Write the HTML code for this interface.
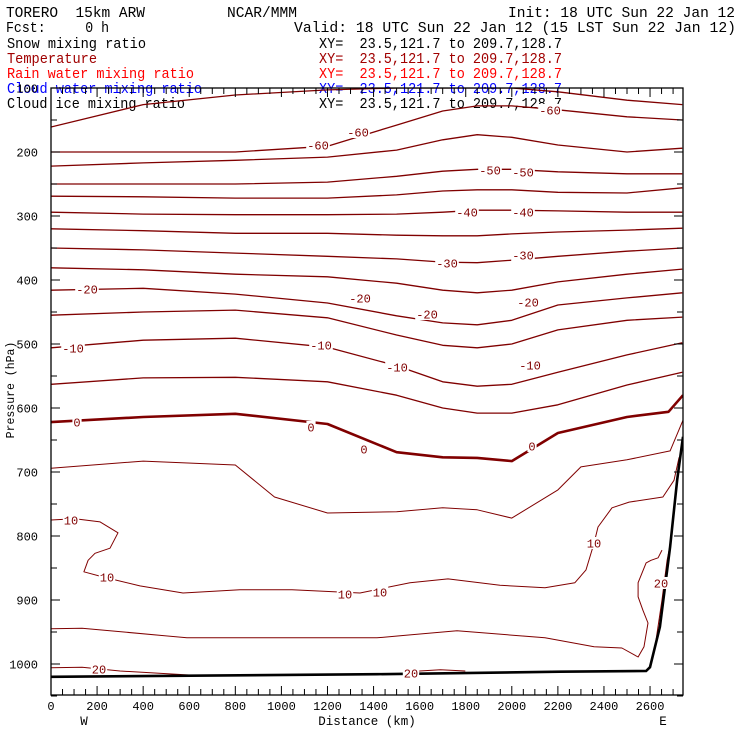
<!DOCTYPE html>
<html><head><meta charset="utf-8"><style>
html,body{margin:0;padding:0;background:#fff;}
svg{display:block;}
text{font-family:"Liberation Mono","DejaVu Sans Mono",monospace;white-space:pre;}
</style></head><body>
<svg id="chart" width="740" height="740" viewBox="0 0 740 740" xmlns="http://www.w3.org/2000/svg" xml:space="preserve">
<g id="header" font-size="14.4">
<text x="6" y="17" textLength="139" lengthAdjust="spacingAndGlyphs">TORERO  15km ARW</text>
<text x="227" y="17" textLength="70" lengthAdjust="spacingAndGlyphs">NCAR/MMM</text>
<text x="508" y="17" textLength="227" lengthAdjust="spacingAndGlyphs">Init: 18 UTC Sun 22 Jan 12</text>
<text x="6" y="32" textLength="103" lengthAdjust="spacingAndGlyphs">Fcst:     0 h</text>
<text x="294" y="32" textLength="442" lengthAdjust="spacingAndGlyphs">Valid: 18 UTC Sun 22 Jan 12 (15 LST Sun 22 Jan 12)</text>
<text x="7" y="48" fill="#000" textLength="139" lengthAdjust="spacingAndGlyphs">Snow mixing ratio</text>
<text x="319" y="48" fill="#000" textLength="243" lengthAdjust="spacingAndGlyphs">XY=  23.5,121.7 to 209.7,128.7</text>
<text x="7" y="63" fill="#a00000" textLength="90" lengthAdjust="spacingAndGlyphs">Temperature</text>
<text x="319" y="63" fill="#a00000" textLength="243" lengthAdjust="spacingAndGlyphs">XY=  23.5,121.7 to 209.7,128.7</text>
<text x="7" y="78" fill="#ff0000" textLength="187" lengthAdjust="spacingAndGlyphs">Rain water mixing ratio</text>
<text x="319" y="78" fill="#ff0000" textLength="243" lengthAdjust="spacingAndGlyphs">XY=  23.5,121.7 to 209.7,128.7</text>
<text x="7" y="93" fill="#0000ff" textLength="195" lengthAdjust="spacingAndGlyphs">Cloud water mixing ratio</text>
<text x="319" y="93" fill="#0000ff" textLength="243" lengthAdjust="spacingAndGlyphs">XY=  23.5,121.7 to 209.7,128.7</text>
<text x="7" y="108" fill="#000" textLength="178" lengthAdjust="spacingAndGlyphs">Cloud ice mixing ratio</text>
<text x="319" y="108" fill="#000" textLength="243" lengthAdjust="spacingAndGlyphs">XY=  23.5,121.7 to 209.7,128.7</text>
</g>
<g id="contours"></g>
<g id="labels" font-size="12" fill="#800000"></g>
<g id="axes"></g>
</svg>
<script>
// ---- data ----
const nodeKm = [0,400,800,1200,1500,1700,1850,2000,2200,2500,2740];
const levels = [-65,-60,-55,-50,-45,-40,-35,-30,-25,-20,-15,-10,-5];
const pM65 = [161,126,111,103,100,100,100,100,106,119,126];
const pM60 = [200,200,200,191,158,136,128,128,134,145,150];
const pM55 = [222,217,213,208,197,181,173,177,189,200,194];
const pM50 = [250,250,250,247,238,230,227,227,231,234,234];
const pM45 = [269,270,272,272,267,261,259,259,263,264,256];
const pM40 = [294,297,298,298,297,294,291,291,292,294,294];
const pM35 = [320,323,327,327,330,331,331,328,325,322,319];
const pM30 = [350,353,358,363,367,372,373,369,363,355,350];
const pM25 = [381,384,391,395,405,416,420,416,403,391,383];
const pM20 = [416,413,422,436,456,467,470,463,439,428,420];
const pM15 = [455,450,447,459,486,502,506,500,478,463,458];
const pM10 = [506,494,491,505,534,559,566,563,544,517,498];
const pM05 = [563,553,552,559,580,600,608,608,595,564,544];
const upperSeries = [pM65,pM60,pM55,pM50,pM45,pM40,pM35,pM30,pM25,pM20,pM15,pM10,pM05];

const km0 = [0,400,800,1200,1500,1700,1850,2000,2200,2500,2680,2743];
const p0  = [622,614,609,625,669,677,678,683,639,614,606,580];
const km5 = [0,400,800,970,1200,1500,1700,1850,2000,2200,2300,2500,2687,2743];
const p5  = [694,683,689,739,764,762,756,759,772,728,692,681,667,619];
const km10 = [0,104,213,291,256,191,161,143,226,386,573,820,1046,1341,1558,1723,1949,2144,2274,2322,2357,2374,2435,2509,2656,2704,2726];
const p10  = [775,773,778,795,819,827,838,856,864,878,889,884,884,889,873,867,877,881,873,853,811,786,756,747,739,713,677];
const km15 = [0,135,590,1415,1762,2144,2357,2478,2548,2574,2591,2569,2548,2548,2583,2604,2635,2652];
const p15  = [945,944,959,959,948,959,973,975,989,973,936,916,895,873,842,838,834,822];
const km20a = [0,135,300,590,712];
const p20a  = [1006,1005,1011,1017,1020];
const km20b = [1545,1600,1690,1798];
const p20b  = [1016,1011,1009,1011];
const km20c = [2604,2626,2652,2674,2687];
const p20c  = [1006,963,900,838,814];
const terrainKm = [0,1415,2209,2583,2600,2643,2687,2718,2743];
const terrainP  = [1020,1016,1012,1011,1005,942,817,712,645];

const xTicksMajor = [0,200,400,600,800,1000,1200,1400,1600,1800,2000,2200,2400,2600];
const yTicksMajor = [100,200,300,400,500,600,700,800,900,1000];

// ---- axes functions ----
const X0=51, X1=683, Y0=88, Y1=695;
const KMMAX=(X1-X0)/0.2304;
function xs(km){return X0 + km*0.2304;}
function ys(p){return Y0 + (p-100)*0.64;}
const NS='http://www.w3.org/2000/svg';
function mk(tag,attrs,parent){const e=document.createElementNS(NS,tag);for(const k in attrs)e.setAttribute(k,attrs[k]);parent.appendChild(e);return e;}
function pts(ka,pa){return ka.map((k,i)=>xs(k).toFixed(1)+','+ys(pa[i]).toFixed(1)).join(' ');}

const cg=document.getElementById('contours');
const clip=mk('clipPath',{id:'plotclip'},document.getElementById('chart'));
mk('rect',{x:X0,y:Y0,width:X1-X0,height:Y1-Y0},clip);
cg.setAttribute('clip-path','url(#plotclip)');
const DR='#800000';
upperSeries.forEach((s,i)=>{
  const l=mk('polyline',{points:pts(nodeKm,s),fill:'none',stroke:DR,'stroke-width':1.3,'stroke-linejoin':'round'},cg);
  
  
});
const others=[[km0,p0,'isotherm-0',2.6],[km5,p5,'isotherm-5',1],[km10,p10,'isotherm-10',1],[km15,p15,'isotherm-15',1],[km20a,p20a,'isotherm-20-west',1],[km20b,p20b,'isotherm-20-center',1],[km20c,p20c,'isotherm-20-east',1]];
others.forEach(o=>{
  const l=mk('polyline',{points:pts(o[0],o[1]),fill:'none',stroke:DR,'stroke-width':o[3],'stroke-linejoin':'round'},cg);
  
  
});
const tp=pts(terrainKm,terrainP);
const mask=mk('polygon',{points:tp+' '+xs(2743)+','+Y1+' '+X0+','+Y1,fill:'#fff',stroke:'none'},cg);


const terr=mk('polyline',{points:tp,fill:'none',stroke:'#000','stroke-width':2.6},cg);



const lg=document.getElementById('labels');
const labs=[["-60",318,145],["-60",358,132],["-60",550,110],["-50",490,170],["-50",523,172],["-40",467,212],["-40",523,212],["-30",447,263],["-30",523,255],["-20",87,289],["-20",360,298],["-20",427,314],["-20",528,302],["-10",73,348],["-10",321,345],["-10",397,367],["-10",530,365],["0",77,422],["0",311,427],["0",364,449],["0",532,446],["10",71,520],["10",107,577],["10",345,594],["10",380,592],["10",594,543],["20",99,669],["20",411,673],["20",661,583]];
labs.forEach(l=>{
  const w=l[0].length*7.2+2;
  const r=mk('rect',{x:l[1]-w/2,y:l[2]-6,width:w,height:12,fill:'#fff'},lg);
  
  
  const t=mk('text',{x:l[1],y:l[2]+4.5,'text-anchor':'middle'},lg);
  t.textContent=l[0];
  
  
});

const ag=document.getElementById('axes');
const frame=mk('rect',{x:X0,y:Y0,width:X1-X0,height:Y1-Y0,fill:'none',stroke:'#000','stroke-width':1.3},ag);


for(let k=0;k<=KMMAX;k+=50){
  const major=k%200===0; const len=major?9:6; const x=xs(k);
  const t1=mk('line',{x1:x,y1:Y1,x2:x,y2:Y1-len,stroke:'#000','stroke-width':1},ag);
  
  
  const t2=mk('line',{x1:x,y1:Y0,x2:x,y2:Y0+len,stroke:'#000','stroke-width':1},ag);
  
  
}
xTicksMajor.forEach(k=>{
  const t=mk('text',{x:xs(k),y:710,'text-anchor':'middle','font-size':12},ag);
  t.textContent=k;
  
  
});
for(let p=100;p<=1050;p+=50){
  const major=p%100===0; const len=major?9:6; const y=ys(p);
  const t1=mk('line',{x1:X0,y1:y,x2:X0+len,y2:y,stroke:'#000','stroke-width':1},ag);
  
  
  const t2=mk('line',{x1:X1,y1:y,x2:X1-len,y2:y,stroke:'#000','stroke-width':1},ag);
  
  
}
yTicksMajor.forEach(p=>{
  const t=mk('text',{x:38,y:ys(p)+4.5,'text-anchor':'end','font-size':12},ag);
  t.textContent=p;
  
  
});
const xt=mk('text',{x:367,y:725,'text-anchor':'middle','font-size':12.5},ag);
xt.textContent='Distance (km)';


const wl=mk('text',{x:84,y:725,'text-anchor':'middle','font-size':12.5},ag);
wl.textContent='W';


const el=mk('text',{x:663,y:725,'text-anchor':'middle','font-size':12.5},ag);
el.textContent='E';


const yt=mk('text',{x:0,y:0,'text-anchor':'middle','font-size':11.5,transform:'translate(14,390) rotate(-90)'},ag);
yt.textContent='Pressure (hPa)';


</script>
</body></html>
